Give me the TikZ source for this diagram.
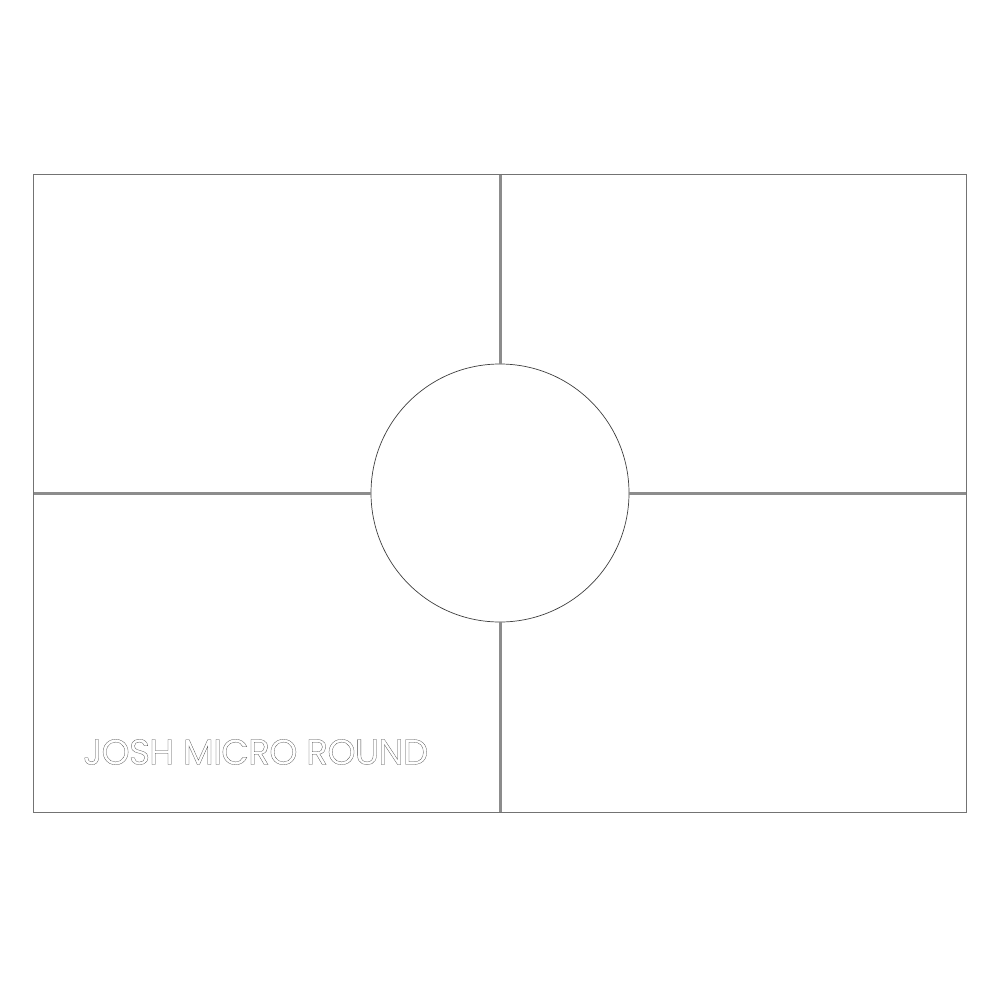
\documentclass[tikz,border=0pt]{standalone}
\usepackage{fontspec}
\setmainfont{Poppins}
\newfontfamily\labelfont{Poppins}[LetterSpace=-2]
\begin{document}
\begin{tikzpicture}[x=1pt,y=-1pt,
  frame/.style={draw=black!55,line width=0.9pt},
  divider/.style={draw=black!45,line width=3pt},
  hub/.style={circle,draw=black!75,line width=0.7pt,minimum size=258pt,inner sep=0pt}]
\useasboundingbox (0,0) rectangle (1000,1000);
\fill[white] (0,0) rectangle (1000,1000);
\coordinate (tl) at (33,174);
\coordinate (br) at (966,812);
\coordinate (tm) at (500,174);
\coordinate (bm) at (500,812);
\coordinate (lm) at (33,493);
\coordinate (rm) at (966,493);
\node[hub] (c) at (500,493) {};
\draw[divider] (tm) -- (c.north);
\draw[divider] (c.south) -- (bm);
\draw[divider] (lm) -- (c.west);
\draw[divider] (c.east) -- (rm);
\draw[frame] (tl) rectangle (br);
\node[anchor=west,inner sep=0pt] (lbl) at (83,752) {\resizebox{345pt}{!}{\labelfont\fontsize{40}{40}\selectfont\special{pdf:literal 1 Tr 0.3 w 0.3 0.3 0.3 RG}JOSH MICRO ROUND\special{pdf:literal 0 Tr}}};
\end{tikzpicture}
\end{document}
